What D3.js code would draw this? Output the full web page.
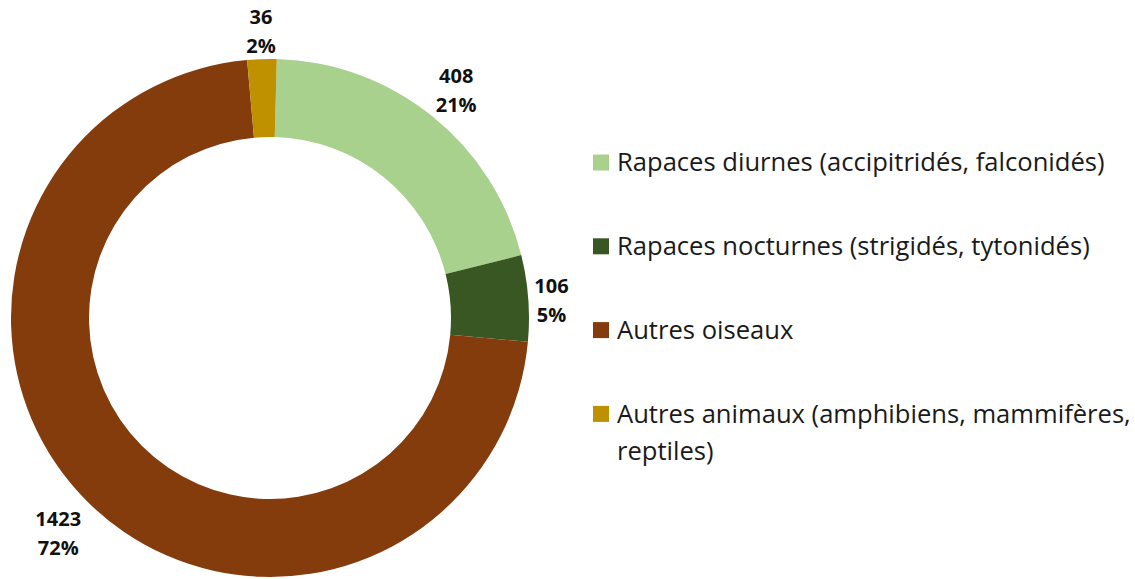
<!DOCTYPE html>
<html lang="fr">
<head>
  <meta charset="UTF-8">
  <title>Répartition des animaux</title>
  <script src="https://d3js.org/d3.v7.min.js"></script>
  <style>
    body { margin: 0; background: #fff; }
    svg { display: block; font-family: 'Open Sans', sans-serif; }
    .lbl { font-weight: bold; font-size: 20px; fill: #111; }
    .leg { fill: #1a1a1a; }
  </style>
</head>
<body>
  <svg id="chart"></svg>

  <script>
    const categories = [
      "Rapaces diurnes (accipitridés, falconidés)",
      "Rapaces nocturnes (strigidés, tytonidés)",
      "Autres oiseaux",
      "Autres animaux (amphibiens, mammifères, reptiles)"
    ];
    const values = [408, 106, 1423, 36];
    const colors = ["#a9d18e", "#385723", "#843c0c", "#bf9000"];

    const width = 1135, height = 579;
    const cx = 270, cy = 318, outerR = 259, innerR = 181;
    const startAngle = 1.5 * Math.PI / 180;

    const svg = d3.select("#chart")
      .attr("width", width)
      .attr("height", height);

    const total = d3.sum(values);
    const data = categories.map((c, i) => ({ name: c, value: values[i], color: colors[i] }));

    const pie = d3.pie()
      .value(d => d.value)
      .sort(null)
      .startAngle(startAngle)
      .endAngle(startAngle + 2 * Math.PI);

    const arc = d3.arc().innerRadius(innerR).outerRadius(outerR);

    const g = svg.append("g").attr("transform", `translate(${cx},${cy})`);
    const arcs = pie(data);

    g.selectAll("path")
      .data(arcs)
      .enter().append("path")
      .attr("d", arc)
      .attr("fill", d => d.data.color);

    // data labels, placed just outside the ring like Excel's "outside end"
    const fmtPct = d3.format(".0%");
    const gap = 4;
    arcs.forEach(a => {
      const mid = (a.startAngle + a.endAngle) / 2;
      const sx = Math.sin(mid), sy = -Math.cos(mid);
      const t = g.append("text").attr("class", "lbl").attr("text-anchor", "middle");
      t.append("tspan").attr("x", 0).attr("dy", 0).text(a.data.value);
      t.append("tspan").attr("x", 0).attr("dy", 29).text(fmtPct(a.data.value / total));
      const bb = t.node().getBBox();
      const r = outerR + gap + Math.abs(sx) * bb.width / 2 + Math.abs(sy) * bb.height / 2;
      const bx = sx * r, by = sy * r + 4;
      t.attr("transform", `translate(${bx},${by - bb.y - bb.height / 2})`);
    });

    // legend
    const legX = 593, legY0 = 162.5, legStep = 83.8, sw = 16, textX = 617;
    const maxW = width - textX - 2;

    // size the legend font: first entry ~490px wide, and the long entry
    // must keep "mammifères," on its first line
    const probe = svg.append("text").attr("class", "leg").style("font-size", "20px");
    const w1 = probe.text(categories[0]).node().getComputedTextLength();
    const w4 = probe.text("Autres animaux (amphibiens, mammifères,").node().getComputedTextLength();
    const legFont = Math.min(20 * 490 / w1, 20 * (maxW - 2) / w4);
    probe.remove();

    const leg = svg.append("g").style("font-size", legFont + "px");
    data.forEach((d, i) => {
      const y = legY0 + i * legStep;
      leg.append("rect")
        .attr("x", legX).attr("y", y - sw / 2)
        .attr("width", sw).attr("height", sw)
        .attr("fill", d.color);
      const t = leg.append("text").attr("class", "leg")
        .attr("x", textX).attr("y", y).attr("dy", "0.35em");
      const words = d.name.split(" ");
      let line = [], ts = t.append("tspan").attr("x", textX);
      words.forEach(w => {
        line.push(w);
        ts.text(line.join(" "));
        if (ts.node().getComputedTextLength() > maxW && line.length > 1) {
          line.pop();
          ts.text(line.join(" "));
          line = [w];
          ts = t.append("tspan").attr("x", textX).attr("dy", 37).text(w);
        }
      });
    });
  </script>
</body>
</html>
